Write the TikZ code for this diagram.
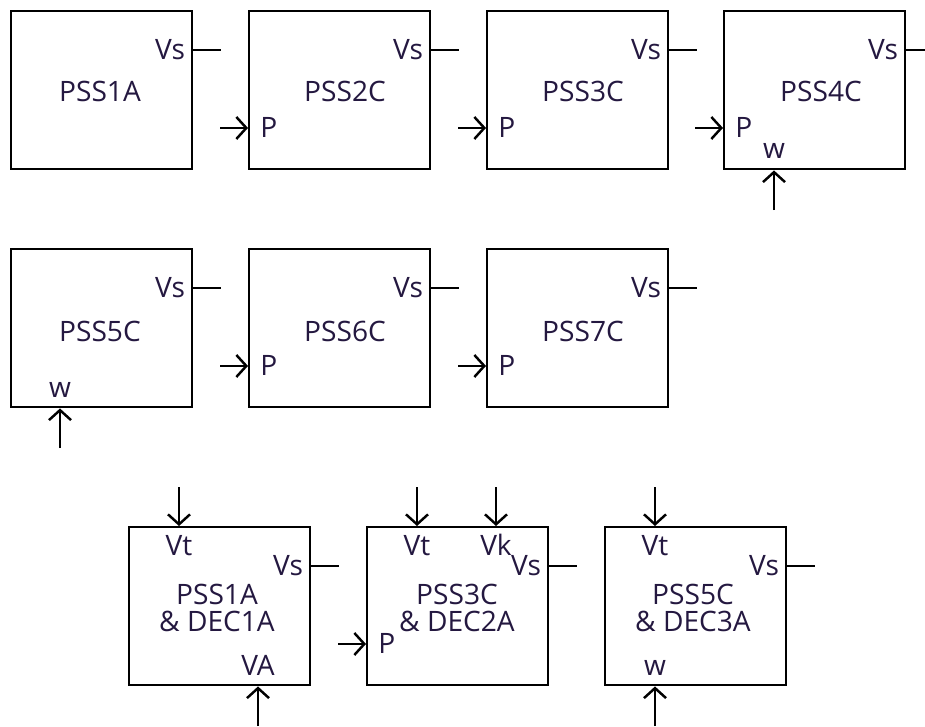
\documentclass[tikz,border=0pt]{standalone}
\usepackage{fontspec}
\setmainfont{Open Sans}
\usepackage{xcolor}
\usetikzlibrary{arrows.meta,positioning}

\definecolor{txt}{RGB}{36,24,64}

\begin{document}
\begin{tikzpicture}[
    x=0.02cm, y=-0.02cm,
    font=\fontsize{16}{15}\selectfont,
    blk/.style={draw, line width=1.4pt, anchor=north west,
        minimum width=3.62cm, minimum height=3.16cm, inner sep=0pt},
    lab/.style={text=txt, inner sep=0pt},
    ttl/.style={text=txt, inner sep=0pt, align=center},
    wire/.style={line width=1.4pt},
    arr/.style={line width=1.4pt, -{Straight Barb[length=0.2cm,width=0.44cm]}}
]
\useasboundingbox (0,0) rectangle (925,726);

% blocks with Vs output
\foreach \n/\x/\y in {pss1a/10/10, pss2c/248/10, pss3c/486/10, pss4c/723/10,
    pss5c/10/248, pss6c/248/248, pss7c/486/248,
    dec1a/128/526, dec2a/366/526, dec3a/604/526} {
  \node[blk] (\n) at (\x,\y) {};
  \coordinate (\n-vs) at ([yshift=-0.8cm]\n.north east);
  \coordinate (\n-out) at ([xshift=0.56cm]\n-vs);
  \draw[wire] (\n-vs) -- (\n-out);
  \node[lab, anchor=base east] (\n-vslab) at ([xshift=-0.16cm,yshift=-1cm]\n.north east) {Vs};
}

% P inputs
\foreach \n in {pss2c, pss3c, pss4c, pss6c, pss7c, dec2a} {
  \coordinate (\n-pin) at ([xshift=-0.56cm,yshift=-2.36cm]\n.north west);
  \draw[arr] (\n-pin) -- (\n-pin -| \n.west);
  \node[lab, anchor=base west] (\n-plab) at ([xshift=0.24cm,yshift=-2.56cm]\n.north west) {P};
}

% titles
\node[ttl, anchor=base] (pss1a-t) at (100,102) {PSS1A};
\node[ttl, anchor=base] (pss2c-t) at (345,102) {PSS2C};
\node[ttl, anchor=base] (pss3c-t) at (583,102) {PSS3C};
\node[ttl, anchor=base] (pss4c-t) at (821,102) {PSS4C};
\node[ttl, anchor=base] (pss5c-t) at (100,341) {PSS5C};
\node[ttl, anchor=base] (pss6c-t) at (345,341) {PSS6C};
\node[ttl, anchor=base] (pss7c-t) at (583,341) {PSS7C};
\node[ttl] (dec1a-t) at (217,608) {PSS1A\\\& DEC1A};
\node[ttl] (dec2a-t) at (457,608) {PSS3C\\\& DEC2A};
\node[ttl] (dec3a-t) at (693,608) {PSS5C\\\& DEC3A};

% inputs from above
\foreach \n/\x/\t in {dec1a/179/Vt, dec2a/417/Vt, dec2a/496/Vk, dec3a/655/Vt} {
  \coordinate (\n-\t-in) at (\x,487);
  \draw[arr] (\n-\t-in) -- (\n-\t-in |- \n.north);
  \node[lab, anchor=base] (\n-\t-lab) at (\x,555) {\t};
}

% inputs from below
\foreach \n/\x/\y/\ly/\t in {pss4c/774/210/158/w, pss5c/60/448/397/w,
    dec1a/258/726/675/VA, dec3a/655/726/675/w} {
  \coordinate (\n-\t-in) at (\x,\y);
  \draw[arr] (\n-\t-in) -- (\n-\t-in |- \n.south);
  \node[lab, anchor=base] (\n-\t-lab) at (\x,\ly) {\t};
}
\end{tikzpicture}
\end{document}
